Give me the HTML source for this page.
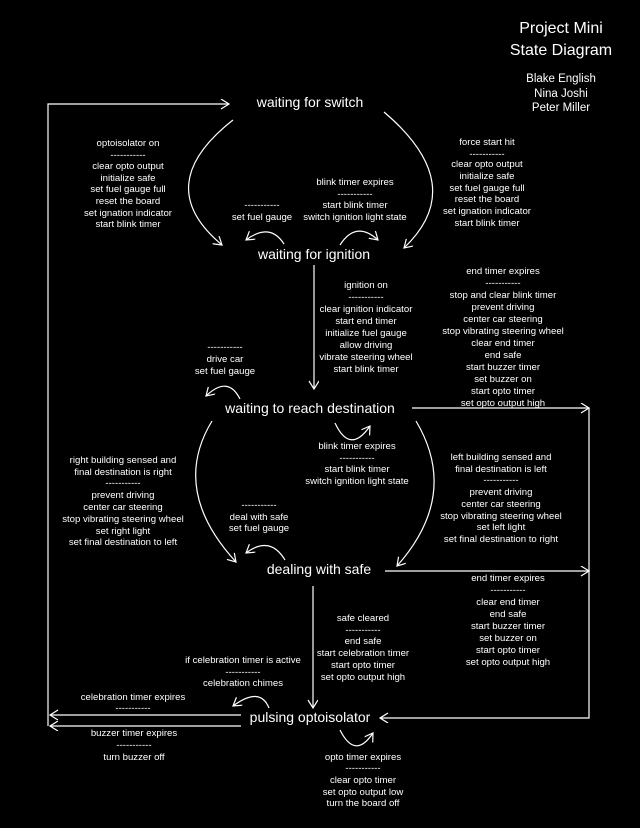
<!DOCTYPE html>
<html><head><meta charset="utf-8"><style>
html,body{margin:0;padding:0;background:#000;}
svg{display:block;}
text{font-family:"Liberation Sans",sans-serif;fill:#fff;text-anchor:middle;}
.s{font-size:14px;}
.l{font-size:9.6px;fill:#eee;}
.t{font-size:16px;}
.n{font-size:11.5px;}
path,line,polyline{stroke:#fff;fill:none;stroke-width:1.2;}
</style></head><body>
<svg width="640" height="828" viewBox="0 0 640 828" xmlns="http://www.w3.org/2000/svg">
<defs>
<marker id="a" markerWidth="12" markerHeight="12" refX="9" refY="5" orient="auto" markerUnits="userSpaceOnUse">
<polyline points="1,0 9,5 1,10" style="stroke:#fff;fill:none;stroke-width:1.2"/>
</marker>
</defs>
<rect width="640" height="828" fill="#000"/>
<text class="t" x="561" y="33">Project Mini</text>
<text class="t" x="561" y="55">State Diagram</text>
<text class="n" x="561" y="82">Blake English</text>
<text class="n" x="561" y="97">Nina Joshi</text>
<text class="n" x="561" y="111">Peter Miller</text>

<text class="s" x="310" y="107">waiting for switch</text>
<text class="s" x="314" y="259">waiting for ignition</text>
<text class="s" x="310" y="413">waiting to reach destination</text>
<text class="s" x="319" y="574">dealing with safe</text>
<text class="s" x="310" y="722">pulsing optoisolator</text>

<!-- left return line -->
<polyline points="48,726 48,104 229,104" marker-end="url(#a)"/>
<line x1="241" y1="715" x2="50" y2="715" marker-end="url(#a)"/>
<line x1="241" y1="726" x2="50" y2="726" marker-end="url(#a)"/>
<!-- right line -->
<line x1="412" y1="408" x2="589" y2="408" marker-end="url(#a)"/>
<line x1="385" y1="571" x2="589" y2="571" marker-end="url(#a)"/>
<polyline points="589,408 589,718 380,718" marker-end="url(#a)"/>

<!-- switch -> ignition -->
<path d="M233,120 Q150,185 222,245" marker-end="url(#a)"/>
<path d="M384,112 Q470,185 404,248" marker-end="url(#a)"/>
<!-- ignition self loops -->
<path d="M284,244 Q270,222 246,240" marker-end="url(#a)"/>
<path d="M340,245 Q356,220 378,240" marker-end="url(#a)"/>
<!-- ignition -> dest -->
<line x1="314" y1="265" x2="314" y2="389" marker-end="url(#a)"/>
<!-- dest self loops -->
<path d="M240,399 Q228,375 206,396" marker-end="url(#a)"/>
<path d="M335,423 Q350,455 370,426" marker-end="url(#a)"/>
<!-- dest -> safe -->
<path d="M212,421 Q170,490 236,562" marker-end="url(#a)"/>
<path d="M416,421 Q460,495 397,566" marker-end="url(#a)"/>
<!-- safe self loop -->
<path d="M285,560 Q270,535 246,553" marker-end="url(#a)"/>
<!-- safe -> pulsing -->
<line x1="313" y1="586" x2="313" y2="708" marker-end="url(#a)"/>
<!-- pulsing self loops -->
<path d="M269,708 Q260,686 233,706" marker-end="url(#a)"/>
<path d="M340,730 Q355,760 373,733" marker-end="url(#a)"/>

<g class="l">
<text x="128" y="146">optoisolator on</text>
<text x="128" y="158">-----------</text>
<text x="128" y="169">clear opto output</text>
<text x="128" y="181">initialize safe</text>
<text x="128" y="192">set fuel gauge full</text>
<text x="128" y="204">reset the board</text>
<text x="128" y="216">set ignation indicator</text>
<text x="128" y="227">start blink timer</text>

<text x="487" y="145">force start hit</text>
<text x="487" y="157">-----------</text>
<text x="487" y="167">clear opto output</text>
<text x="487" y="179">initialize safe</text>
<text x="487" y="191">set fuel gauge full</text>
<text x="487" y="202">reset the board</text>
<text x="487" y="214">set ignation indicator</text>
<text x="487" y="226">start blink timer</text>

<text x="355" y="185">blink timer expires</text>
<text x="355" y="197">-----------</text>
<text x="355" y="208">start blink timer</text>
<text x="355" y="220">switch ignition light state</text>

<text x="262" y="208">-----------</text>
<text x="262" y="220">set fuel gauge</text>

<text x="366" y="288">ignition on</text>
<text x="366" y="300">-----------</text>
<text x="366" y="312">clear ignition indicator</text>
<text x="366" y="324">start end timer</text>
<text x="366" y="336">initialize fuel gauge</text>
<text x="366" y="348">allow driving</text>
<text x="366" y="360">vibrate steering wheel</text>
<text x="366" y="372">start blink timer</text>

<text x="503" y="274">end timer expires</text>
<text x="503" y="286">-----------</text>
<text x="503" y="298">stop and clear blink timer</text>
<text x="503" y="310">prevent driving</text>
<text x="503" y="322">center car steering</text>
<text x="503" y="334">stop vibrating steering wheel</text>
<text x="503" y="346">clear end timer</text>
<text x="503" y="358">end safe</text>
<text x="503" y="370">start buzzer timer</text>
<text x="503" y="382">set buzzer on</text>
<text x="503" y="394">start opto timer</text>
<text x="503" y="406">set opto output high</text>

<text x="225" y="350">-----------</text>
<text x="225" y="362">drive car</text>
<text x="225" y="374">set fuel gauge</text>

<text x="357" y="449">blink timer expires</text>
<text x="357" y="461">-----------</text>
<text x="357" y="472">start blink timer</text>
<text x="357" y="484">switch ignition light state</text>

<text x="123" y="463">right building sensed and</text>
<text x="123" y="475">final destination is right</text>
<text x="123" y="486">-----------</text>
<text x="123" y="498">prevent driving</text>
<text x="123" y="510">center car steering</text>
<text x="123" y="522">stop vibrating steering wheel</text>
<text x="123" y="534">set right light</text>
<text x="123" y="545">set final destination to left</text>

<text x="501" y="460">left building sensed and</text>
<text x="501" y="472">final destination is left</text>
<text x="501" y="483">-----------</text>
<text x="501" y="495">prevent driving</text>
<text x="501" y="507">center car steering</text>
<text x="501" y="519">stop vibrating steering wheel</text>
<text x="501" y="530">set left light</text>
<text x="501" y="542">set final destination to right</text>

<text x="259" y="508">-----------</text>
<text x="259" y="520">deal with safe</text>
<text x="259" y="531">set fuel gauge</text>

<text x="508" y="581">end timer expires</text>
<text x="508" y="593">-----------</text>
<text x="508" y="605">clear end timer</text>
<text x="508" y="617">end safe</text>
<text x="508" y="629">start buzzer timer</text>
<text x="508" y="641">set buzzer on</text>
<text x="508" y="653">start opto timer</text>
<text x="508" y="665">set opto output high</text>

<text x="363" y="621">safe cleared</text>
<text x="363" y="633">-----------</text>
<text x="363" y="644">end safe</text>
<text x="363" y="656">start celebration timer</text>
<text x="363" y="668">start opto timer</text>
<text x="363" y="680">set opto output high</text>

<text x="243" y="663">if celebration timer is active</text>
<text x="243" y="675">-----------</text>
<text x="243" y="686">celebration chimes</text>

<text x="133" y="700">celebration timer expires</text>
<text x="133" y="711">-----------</text>

<text x="134" y="736">buzzer timer expires</text>
<text x="134" y="748">-----------</text>
<text x="134" y="760">turn buzzer off</text>

<text x="363" y="760">opto timer expires</text>
<text x="363" y="771">-----------</text>
<text x="363" y="783">clear opto timer</text>
<text x="363" y="795">set opto output low</text>
<text x="363" y="806">turn the board off</text>
</g>
</svg>
</body></html>
